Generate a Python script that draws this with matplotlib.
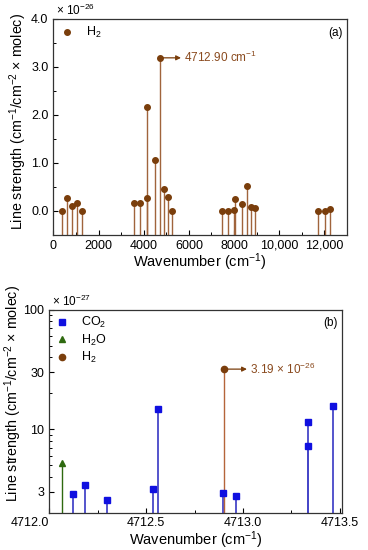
import numpy as np
import matplotlib
matplotlib.use('Agg')
import matplotlib.pyplot as plt
from matplotlib.ticker import MultipleLocator, FixedLocator, FixedFormatter, FuncFormatter

plt.rcParams['font.family'] = ['Liberation Sans', 'DejaVu Sans']
plt.rcParams['mathtext.fontset'] = 'custom'
plt.rcParams['mathtext.rm'] = 'Liberation Sans'
plt.rcParams['mathtext.it'] = 'Liberation Sans:italic'

# panel (a): H2 lines, line strength in 1e-26
h2_wn = [367, 587, 822, 1057, 1263, 3568, 3818, 4141, 4150, 4479, 4712.9,
         4890, 5095, 5272, 7460, 7709, 8003, 8062, 8370, 8576, 8752, 8928,
         11718, 12041, 12232]
h2_s = [0.0, 0.26, 0.10, 0.17, 0.0, 0.16, 0.17, 0.26, 2.17, 1.07, 3.19,
        0.45, 0.29, 0.0, 0.0, 0.0, 0.02, 0.25, 0.15, 0.51, 0.08, 0.07,
        0.0, 0.0, 0.035]

# panel (b): lines near 4712.9 cm-1, line strength in 1e-27
co2_wn = [4712.122, 4712.186, 4712.297, 4712.535, 4712.562, 4712.895,
          4712.966, 4713.333, 4713.333, 4713.466]
co2_s = [2.87, 3.40, 2.56, 3.16, 14.8, 2.91, 2.76, 7.25, 11.6, 15.6]
h2o_wn = [4712.066]
h2o_s = [5.26]
h2b_wn = [4712.90]
h2b_s = [31.9]

brown = '#7a3e0c'
brown_stem = '#a0643c'
blue = '#1010e0'
blue_stem = '#4646c8'
green = '#2f6a10'
txt_brown = '#8a4a1e'
ylab = 'Line strength (cm$^{-1}$/cm$^{-2}$ × molec)'
xlab = 'Wavenumber (cm$^{-1}$)'


def arrow_label(ax, x0, y0, x1, text):
    # arrow from the marked line out to its label
    ax.annotate('', xy=(x1, y0), xytext=(x0, y0),
                arrowprops=dict(arrowstyle='-|>', color=brown, lw=0.9,
                                mutation_scale=7, shrinkA=2, shrinkB=0))
    ax.text(x1, y0, ' ' + text, color=txt_brown, fontsize=8.5, va='center', ha='left')


fig = plt.figure(figsize=(3.68, 5.5), dpi=100)
ax1 = fig.add_axes([0.145, 0.573, 0.798, 0.3925])
ax2 = fig.add_axes([0.134, 0.068, 0.795, 0.3685])

# ---- (a)
ybot = -0.5
ax1.vlines(h2_wn, ybot, h2_s, color=brown_stem, lw=1.0, zorder=2)
ax1.plot(h2_wn, h2_s, 'o', color=brown, ms=4.0, zorder=3, label='H$_2$')
ax1.set_xlim(0, 13000)
ax1.set_ylim(ybot, 4.0)
ax1.xaxis.set_major_locator(FixedLocator([0, 2000, 4000, 6000, 8000, 10000, 12000]))
ax1.xaxis.set_major_formatter(FuncFormatter(lambda v, p: f'{int(v):,}' if v >= 10000 else f'{int(v)}'))
ax1.xaxis.set_minor_locator(MultipleLocator(1000))
ax1.yaxis.set_major_locator(FixedLocator([0, 1, 2, 3, 4]))
ax1.yaxis.set_major_formatter(FuncFormatter(lambda v, p: f'{v:.1f}'))
ax1.yaxis.set_minor_locator(MultipleLocator(0.5))
arrow_label(ax1, 4712.9, 3.19, 5650, '4712.90 cm$^{-1}$')
ax1.text(0.985, 0.965, '(a)', transform=ax1.transAxes, ha='right', va='top', fontsize=8.5)
ax1.text(0.01, 1.005, '× 10$^{-26}$', transform=ax1.transAxes, ha='left', va='bottom', fontsize=8.5)
ax1.legend(loc='upper left', frameon=False, fontsize=9, handletextpad=0.9,
           borderaxespad=0.1, handlelength=1.2)
ax1.set_xlabel(xlab, fontsize=10.5, labelpad=0)
ax1.set_ylabel(ylab, fontsize=10.3)
ax1.yaxis.set_label_coords(-0.082, 0.525)

# ---- (b)
yb = 2.0
ax2.set_yscale('log')
ax2.vlines(co2_wn, yb, co2_s, color=blue_stem, lw=1.3, zorder=2)
ax2.vlines(h2o_wn, yb, h2o_s, color=green, lw=1.0, zorder=2)
ax2.vlines(h2b_wn, yb, h2b_s, color='#b5653a', lw=1.0, zorder=2)
ax2.plot(co2_wn, co2_s, 's', color=blue, ms=4.5, zorder=3, label='CO$_2$')
ax2.plot(h2o_wn, h2o_s, '^', color=green, ms=5, zorder=3, label='H$_2$O')
ax2.plot(h2b_wn, h2b_s, 'o', color=brown, ms=4.5, zorder=3, label='H$_2$')
ax2.set_xlim(4712.0, 4713.51)
ax2.set_ylim(yb, 100)
ax2.xaxis.set_major_locator(FixedLocator([4712.0, 4712.5, 4713.0, 4713.5]))
ax2.xaxis.set_major_formatter(FuncFormatter(lambda v, p: f'{v:.1f}'))
ax2.xaxis.set_minor_locator(MultipleLocator(0.25))
ax2.yaxis.set_major_locator(FixedLocator([3, 10, 30, 100]))
ax2.yaxis.set_major_formatter(FixedFormatter(['3', '10', '30', '100']))
ax2.yaxis.set_minor_locator(FixedLocator([2, 4, 5, 6, 7, 8, 9, 20, 40, 50, 60, 70, 80, 90]))
ax2.yaxis.set_minor_formatter(FuncFormatter(lambda v, p: ''))
arrow_label(ax2, 4712.90, 31.9, 4713.02, '3.19 × 10$^{-26}$')
ax2.text(0.985, 0.965, '(b)', transform=ax2.transAxes, ha='right', va='top', fontsize=8.5)
ax2.text(0.01, 1.005, '× 10$^{-27}$', transform=ax2.transAxes, ha='left', va='bottom', fontsize=8.5)
ax2.legend(loc='upper left', frameon=False, fontsize=9, handletextpad=0.9,
           borderaxespad=0.0, handlelength=1.2, labelspacing=0.2)
ax2.set_xlabel(xlab, fontsize=10.5, labelpad=0)
ax2.set_ylabel(ylab, fontsize=10.3)
ax2.yaxis.set_label_coords(-0.088, 0.59)

for ax in (ax1, ax2):
    ax.tick_params(which='both', direction='in', labelsize=9, top=False, right=False)
    ax.tick_params(which='major', length=3.5, width=0.8)
    ax.tick_params(which='minor', length=2, width=0.7)
    for s in ax.spines.values():
        s.set_linewidth(0.9)
        s.set_color('#333333')

fig.canvas.draw()
lbls = ax2.get_xticklabels()
lbls[0].set_ha('right')

fig.savefig('out.png', dpi=100)
